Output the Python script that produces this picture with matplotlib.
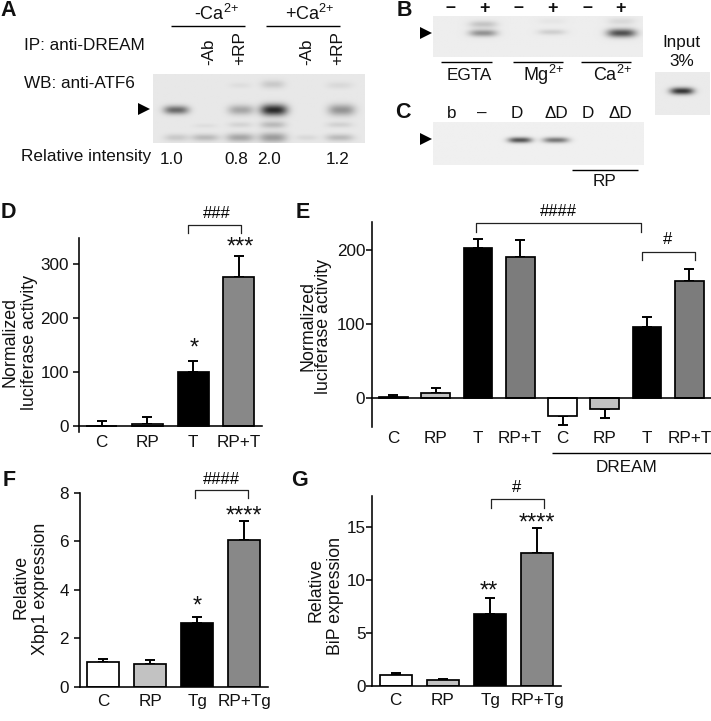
import numpy as np
import matplotlib
matplotlib.use("Agg")
import matplotlib.pyplot as plt

plt.rcParams['font.family'] = ['Liberation Sans', 'DejaVu Sans']
plt.rcParams['mathtext.fontset'] = 'custom'
plt.rcParams['mathtext.rm'] = 'Liberation Sans'
plt.rcParams['mathtext.default'] = 'rm'

W, H = 711, 721
WHITE, LIGHT, BLACK, GREY = '#ffffff', '#c2c2c2', '#000000', '#888888'

# --- chart data ---
d_labels = ['C', 'RP', 'T', 'RP+T']
d_values = [0.5, 5, 100, 275]
d_errors = [9, 12, 20, 40]

e_labels = ['C', 'RP', 'T', 'RP+T', 'C', 'RP', 'T', 'RP+T']
e_values = [2, 7, 204, 191.5, -25, -14.5, 96.7, 158]
e_errors = [2, 6.5, 11, 22.5, 12, 12, 13.5, 17.5]

f_labels = ['C', 'RP', 'Tg', 'RP+Tg']
f_values = [1.03, 0.93, 2.62, 6.05]
f_errors = [0.10, 0.18, 0.25, 0.80]

g_labels = ['C', 'RP', 'Tg', 'RP+Tg']
g_values = [1.04, 0.6, 6.76, 12.5]
g_errors = [0.16, 0.10, 1.51, 2.35]

lane_values_a = ['1.0', '0.8', '2.0', '1.2']

# --- blot bands: (centre x, centre y, width, height, darkness), image pixels ---
bands_a = [(176, 110, 25, 6, .50), (241, 110, 26, 7, .26), (274, 110, 27, 8, .75),
           (342, 110, 27, 8, .33), (176, 138, 24, 5, .12), (205, 138, 28, 5, .18),
           (240, 138, 28, 6, .26), (273, 138, 28, 7, .30), (307, 138, 22, 4, .06),
           (340, 138, 28, 5, .18), (205, 126, 24, 3, .04), (240, 125, 24, 4, .08),
           (273, 125, 26, 5, .18), (340, 125, 26, 4, .09), (273, 84, 24, 6, .12),
           (240, 85, 22, 4, .04), (340, 85, 26, 5, .06)]
bands_b = [(483, 33, 28, 5, .36), (483, 24, 28, 5, .16), (552, 32, 28, 4, .12),
           (552, 21, 28, 4, .03), (622, 33, 29, 6, .62), (622, 21, 28, 5, .08)]
bands_c = [(520, 140, 24, 4, .62), (556, 140, 26, 4, .48)]
bands_i = [(682, 91, 24, 5, .72)]


def px_axes(fig, left, right, top, bottom, ymin, ymax, c0, step, ypad):
    """Axes placed by pixel box; bar i is centred at c0 + i*step pixels."""
    ax = fig.add_axes([left / W, 1 - bottom / H, (right - left) / W, (bottom - top) / H])
    ax.set_xlim((left - c0) / step, (right - c0) / step)
    ax.set_ylim(ymin, ymax)
    ax.patch.set_alpha(0)
    for s in ('top', 'right'):
        ax.spines[s].set_visible(False)
    for s in ('left', 'bottom'):
        ax.spines[s].set_linewidth(1.15)
    ax.spines['bottom'].set_position(('data', 0))
    ax.tick_params(axis='y', length=4, width=1.1, labelsize=12.3, pad=ypad, labelcolor='#111111')
    return ax


def bars(ax, values, errors, colors, labels, width, pad):
    x = np.arange(len(values))
    vals = np.array(values, float)
    errs = np.array(errors, float)
    up = np.where(vals >= 0, errs, 0)
    dn = np.where(vals < 0, errs, 0)
    ax.errorbar(x, vals, yerr=[dn, up], fmt='none', ecolor='k', elinewidth=1.4,
                capsize=3.8, capthick=1.4, zorder=2)
    ax.bar(x, vals, width=width, color=colors, edgecolor='k', linewidth=1.25, zorder=3)
    ax.set_xticks(x, labels, fontsize=12.3, color='#111111')
    ax.tick_params(axis='x', length=0, pad=pad)
    ax.spines['bottom'].set_zorder(4)


fig = plt.figure(figsize=(W / 100, H / 100), dpi=100)

# Panel D
axd = px_axes(fig, 79.3, 262, 237.7, 431.7, -10, 348, 101.7, 45.7, 3.5)
axd.set_yticks([0, 100, 200, 300])
bars(axd, d_values, d_errors, [WHITE, LIGHT, BLACK, GREY], d_labels, 0.68, 6.5)

# Panel E
axe = px_axes(fig, 372.3, 711, 221.7, 427.3, -39.7, 239, 393.3, 42.3, 1)
axe.set_yticks([0, 100, 200])
bars(axe, e_values, e_errors, [WHITE, LIGHT, BLACK, '#7c7c7c', WHITE, LIGHT, BLACK, '#7c7c7c'],
     e_labels, 0.68, 24)

# Panel F
axf = px_axes(fig, 80, 268, 492.7, 686.7, 0, 8, 103, 47.1, 4)
axf.set_yticks([0, 2, 4, 6, 8])
bars(axf, f_values, f_errors, [WHITE, LIGHT, BLACK, GREY], f_labels, 0.68, 5)

# Panel G
axg = px_axes(fig, 372.3, 561, 496, 686, 0, 17.9, 395.7, 47.2, 0.5)
axg.set_yticks([0, 5, 10, 15])
bars(axg, g_values, g_errors, [WHITE, LIGHT, BLACK, GREY], g_labels, 0.68, 5)

# Overlay in image pixels for blots and annotations
ov = fig.add_axes([0, 0, 1, 1], zorder=10)
ov.set_xlim(0, W)
ov.set_ylim(H, 0)
ov.axis('off')
ov.patch.set_alpha(0)


def txt(x, y, s, size=12.3, ha='center', rot=0, weight='normal'):
    ov.text(x, y, s, fontsize=size, ha=ha, va='center', rotation=rot, fontweight=weight,
            color='#111111', rotation_mode='anchor' if rot else 'default')


def line(x0, x1, y, lw=1.0):
    ov.plot([x0, x1], [y, y], color='k', lw=lw, solid_capstyle='butt')


def blot(x0, x1, y0, y1, bg, bands):
    xs = np.arange(x0, x1 + 1)
    ys = np.arange(y0, y1 + 1)
    X, Y = np.meshgrid(xs, ys)
    img = np.full(X.shape, float(bg))
    for cx, cy, w, h, d in bands:
        img -= d * np.exp(-np.abs((X - cx) / (w / 2.0)) ** 3) * np.exp(-((Y - cy) / (h / 1.4)) ** 2)
    ov.imshow(np.clip(img, 0.05, 1), cmap='gray', vmin=0, vmax=1, extent=(x0, x1, y1, y0),
              interpolation='bilinear', aspect='auto', zorder=1)


def arrow(x, y):
    ov.fill([x, x + 12, x], [y - 6, y, y + 6], color='k', lw=0)


def bracket(x0, x1, y, foot):
    ov.plot([x0, x0, x1, x1], [foot, y, y, foot], color='#222222', lw=0.9)


def stars(x, y, s):
    ov.text(x, y + 10.5, s, fontsize=17, ha='center', va='baseline', color='#111111')


def hashes(x, y, s):
    ov.text(x, y, s, fontsize=12, ha='center', va='center', color='black')


# Blots
blot(153, 365, 74, 143, .91, bands_a)
blot(433, 643, 16, 57, .93, bands_b)
blot(433, 644, 122, 165, .94, bands_c)
blot(655, 710, 72, 115, .92, bands_i)
ov.set_xlim(0, W)
ov.set_ylim(H, 0)

# Panel letters
for x, y, s in [(8, 11, 'A'), (404, 11, 'B'), (403, 113, 'C'), (8, 213, 'D'),
                (303, 213, 'E'), (9, 481, 'F'), (300, 481, 'G')]:
    txt(x, y, s, size=15.5, weight='bold')

# Panel A texts
txt(216, 14, '-Ca$^{2{+}}$', size=13)
txt(310, 14, '+Ca$^{2{+}}$', size=13)
line(171, 245, 26)
line(266, 340, 26)
txt(24, 46, 'IP: anti-DREAM', ha='left')
txt(24, 84, 'WB: anti-ATF6', ha='left')
txt(21, 156, 'Relative intensity', ha='left')
for x, s in zip([209, 240, 307, 338], ['-Ab', '+RP', '-Ab', '+RP']):
    ov.text(x, 65, s, fontsize=12.3, rotation=90, ha='center', va='bottom', color='#111111')
for x, s in zip([172, 236, 269, 338], lane_values_a):
    txt(x, 159, s)
arrow(138, 109)

# Panel B texts
for x, s in zip([450, 484, 518, 552, 587, 621], ['–', '+', '–', '+', '–', '+']):
    txt(x, 8, s, weight='bold', size=13)
arrow(420, 33)
line(441, 492, 62)
line(513, 563, 62)
line(581, 631, 62)
txt(469, 75, 'EGTA')
txt(543, 75, 'Mg$^{2{+}}$', size=13)
txt(612, 75, 'Ca$^{2{+}}$', size=13)
txt(681, 43, 'Input')
txt(682, 62, '3%')

# Panel C texts
for x, s in zip([452, 482, 517, 556, 588, 620], ['b', '–', 'D', 'ΔD', 'D', 'ΔD']):
    txt(x, 113, s)
arrow(420, 139)
line(572, 638, 170)
txt(604, 181, 'RP')

# Panel D annotations
for x, s in [(10, 'Normalized'), (29, 'luciferase activity')]:
    txt(x, 342, s, size=12.8, rot=90)
bracket(188.3, 241.3, 225, 233)
hashes(217, 214, '###')
stars(240, 243, '***')
stars(194, 344, '*')

# Panel E annotations
for x, s in [(308, 'Normalized'), (324, 'luciferase activity')]:
    txt(x, 326, s, size=12.8, rot=90)
bracket(476, 641.3, 222.7, 231.7)
hashes(558, 212, '####')
bracket(642, 695.3, 251.7, 260)
hashes(667.3, 240, '#')
line(552.3, 711, 452.7)
txt(626.7, 468, 'DREAM')

# Panel F annotations
txt(20.7, 587, 'Relative', size=12.8, rot=90)
txt(40.7, 589, 'Xbp1 expression', size=12.8, rot=90)
bracket(194.7, 248, 490, 498)
hashes(221, 479, '####')
stars(244, 511.7, '****')
stars(197.7, 602, '*')

# Panel G annotations
txt(316, 590, 'Relative', size=12.8, rot=90)
txt(335, 596, 'BiP expression', size=12.8, rot=90)
bracket(491, 544.3, 499.3, 507.7)
hashes(516.7, 488, '#')
stars(536.7, 518.7, '****')
stars(488.3, 586.7, '**')

fig.savefig('out.png', dpi=100)
